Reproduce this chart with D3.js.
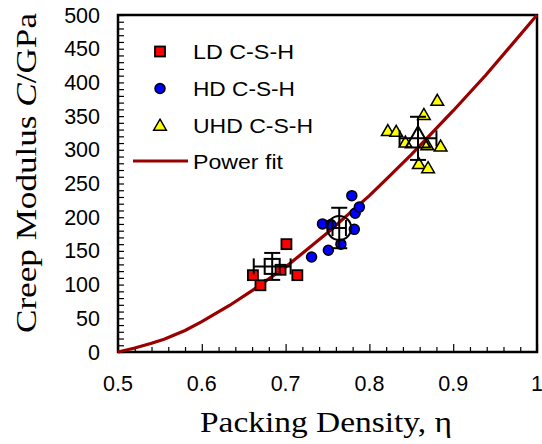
<!DOCTYPE html>
<html><head><meta charset="utf-8">
<script src="https://cdn.jsdelivr.net/npm/d3@7"></script>
<style>body{margin:0;background:#fff}svg{display:block}</style>
</head><body>
<script>
// ---- data ----
const ldEta = [0.661, 0.670, 0.694, 0.701, 0.714];
const ldC   = [114, 99, 122, 160, 114];
const hdEta = [0.731, 0.744, 0.751, 0.754, 0.766, 0.779, 0.782, 0.783, 0.788];
const hdC   = [141, 190, 151, 189, 160, 232, 182, 206, 215];
const uhdEta = [0.822, 0.832, 0.843, 0.859, 0.865, 0.869, 0.870, 0.881, 0.885];
const uhdC   = [328, 327, 311, 279, 352, 307, 273, 373, 305];
const meanEta = [0.684, 0.764, 0.858];
const meanC   = [127, 184, 317];
const meanErrC = [20, 30, 32];
const meanErrEta = [0.022, 0.008, 0.022];
const fitEta = [0.5, 0.52, 0.54, 0.555, 0.58, 0.6, 0.633, 0.66, 0.7, 0.75, 0.8, 0.82, 0.85, 0.9, 0.939, 0.97, 1.0];
const fitC   = [0, 6, 13, 19, 32, 45, 69, 91, 126, 177, 232, 256, 293, 358, 411, 456, 500];
const xTicks = [0.5, 0.6, 0.7, 0.8, 0.9, 1];
const xTickLabels = ["0.5", "0.6", "0.7", "0.8", "0.9", "1"];
const yTicks = [0, 50, 100, 150, 200, 250, 300, 350, 400, 450, 500];
const legendLabels = ["LD C-S-H", "HD C-S-H", "UHD C-S-H", "Power fit"];

const W = 542, H = 444;
const m = {l: 118, r: 5, t: 15, b: 92};
const svg = d3.select("body").append("svg").attr("width", W).attr("height", H);
const x = d3.scaleLinear().domain([0.5, 1]).range([m.l, W - m.r]);
const y = d3.scaleLinear().domain([0, 500]).range([H - m.b, m.t]);
const sans = "Liberation Sans, Arial, sans-serif";
const serif = "Liberation Serif, Times New Roman, serif";
const red = "#ff0000", blue = "#0000ff", yel = "#ffff00", fitCol = "#990000";

// minor ticks
const g = svg.append("g");
g.append("g").attr("transform", `translate(${m.l},0)`)
  .call(d3.axisRight(y).tickValues(d3.range(0, 501, 10)).tickSize(6).tickFormat(""))
  .call(a => a.select(".domain").remove())
  .selectAll("line").attr("stroke", "#000").attr("stroke-width", 1.2);
g.append("g").attr("transform", `translate(0,${H - m.b})`)
  .call(d3.axisTop(x).tickValues(d3.range(0.52, 1.0, 0.02).filter(v => Math.abs(v * 10 - Math.round(v * 10)) > 0.01)).tickSize(5).tickFormat(""))
  .call(a => a.select(".domain").remove())
  .selectAll("line").attr("stroke", "#000").attr("stroke-width", 1.2);
g.append("g").attr("transform", `translate(0,${H - m.b})`)
  .call(d3.axisTop(x).tickValues(xTicks).tickSize(8).tickFormat(""))
  .call(a => a.select(".domain").remove())
  .selectAll("line").attr("stroke", "#000").attr("stroke-width", 1.2);

// tick labels
svg.append("g").selectAll("text").data(yTicks).join("text")
  .attr("x", 100).attr("y", d => y(d) + 7.5).attr("text-anchor", "end")
  .attr("font-family", sans).attr("font-size", 21.5).text(d => d);
svg.append("g").selectAll("text").data(xTicks).join("text")
  .attr("x", d => x(d)).attr("y", 391).attr("text-anchor", "middle")
  .attr("font-family", sans).attr("font-size", 21.5).text((d, i) => xTickLabels[i]);

// frame
svg.append("rect").attr("x", x(0.5)).attr("y", y(500)).attr("width", x(1) - x(0.5)).attr("height", y(0) - y(500))
  .attr("fill", "none").attr("stroke", "#000").attr("stroke-width", 2.5);

// fit
const fit = fitEta.map((e, i) => [e, fitC[i]]);
svg.append("path").datum(fit).attr("d", d3.line().x(d => x(d[0])).y(d => y(d[1])))
  .attr("fill", "none").attr("stroke", fitCol).attr("stroke-width", 3.2);

// points
const sq = 10, cr = 5, tri = d3.symbol().type(d3.symbolTriangle).size(70);
svg.append("g").selectAll("rect").data(ldEta).join("rect")
  .attr("x", (d) => x(d) - sq / 2).attr("y", (d, i) => y(ldC[i]) - sq / 2).attr("width", sq).attr("height", sq)
  .attr("fill", red).attr("stroke", "#000").attr("stroke-width", 1.8);
svg.append("g").selectAll("circle").data(hdEta).join("circle")
  .attr("cx", d => x(d)).attr("cy", (d, i) => y(hdC[i])).attr("r", cr)
  .attr("fill", blue).attr("stroke", "#000").attr("stroke-width", 1.5);
svg.append("g").selectAll("path").data(uhdEta).join("path")
  .attr("d", tri).attr("transform", (d, i) => `translate(${x(d)},${y(uhdC[i]) + 1})`)
  .attr("fill", yel).attr("stroke", "#000").attr("stroke-width", 1.5);

// means with error bars
const eb = svg.append("g").attr("stroke", "#000").attr("stroke-width", 2).attr("fill", "none");
meanEta.forEach((e, i) => {
  const cx = x(e), cy = y(meanC[i]);
  const y1 = y(meanC[i] + meanErrC[i]), y2 = y(meanC[i] - meanErrC[i]);
  const x1 = x(e - meanErrEta[i]), x2 = x(e + meanErrEta[i]);
  eb.append("line").attr("x1", cx).attr("x2", cx).attr("y1", y1).attr("y2", y2);
  eb.append("line").attr("x1", cx - 8).attr("x2", cx + 8).attr("y1", y1).attr("y2", y1);
  eb.append("line").attr("x1", cx - 8).attr("x2", cx + 8).attr("y1", y2).attr("y2", y2);
  eb.append("line").attr("x1", x1).attr("x2", x2).attr("y1", cy).attr("y2", cy);
  eb.append("line").attr("x1", x1).attr("x2", x1).attr("y1", cy - 8).attr("y2", cy + 8);
  eb.append("line").attr("x1", x2).attr("x2", x2).attr("y1", cy - 8).attr("y2", cy + 8);
  if (i === 0) eb.append("rect").attr("x", cx - 7.5).attr("y", cy - 7.5).attr("width", 15).attr("height", 15);
  if (i === 1) eb.append("circle").attr("cx", cx).attr("cy", cy).attr("r", 12);
  if (i === 2) eb.append("path").attr("d", d3.symbol().type(d3.symbolTriangle).size(260)()).attr("transform", `translate(${cx},${cy + 2})`);
});

// legend
const lg = svg.append("g");
const ly = [51.5, 88.5, 125.5, 161];
const lw = [101, 102, 120, 90];
lg.append("rect").attr("x", 160 - 5).attr("y", ly[0] - 5).attr("width", 10).attr("height", 10)
  .attr("fill", red).attr("stroke", "#000").attr("stroke-width", 1.8);
lg.append("circle").attr("cx", 160).attr("cy", ly[1]).attr("r", 5).attr("fill", blue).attr("stroke", "#000").attr("stroke-width", 1.5);
lg.append("path").attr("d", tri).attr("transform", `translate(160,${ly[2] + 1})`).attr("fill", yel).attr("stroke", "#000").attr("stroke-width", 1.5);
lg.append("line").attr("x1", 133).attr("x2", 188).attr("y1", ly[3]).attr("y2", ly[3]).attr("stroke", fitCol).attr("stroke-width", 3.2);
lg.selectAll("text").data(legendLabels).join("text")
  .attr("x", 193).attr("y", (d, i) => ly[i] + 7.5).attr("font-family", sans).attr("font-size", 20.5)
  .attr("textLength", (d, i) => lw[i]).attr("lengthAdjust", "spacingAndGlyphs").text(d => d);

// axis titles
svg.append("text").attr("x", 200).attr("y", 432)
  .attr("font-family", serif).attr("font-size", 28.5)
  .attr("textLength", 252).attr("lengthAdjust", "spacingAndGlyphs").text("Packing Density, η");
const yt = svg.append("text").attr("transform", `translate(36,333) rotate(-90)`)
  .attr("font-family", serif).attr("font-size", 29.5)
  .attr("textLength", 320).attr("lengthAdjust", "spacingAndGlyphs");
yt.append("tspan").text("Creep Modulus ");
yt.append("tspan").attr("font-style", "italic").text("C");
yt.append("tspan").text("/GPa");
</script>
</body></html>
